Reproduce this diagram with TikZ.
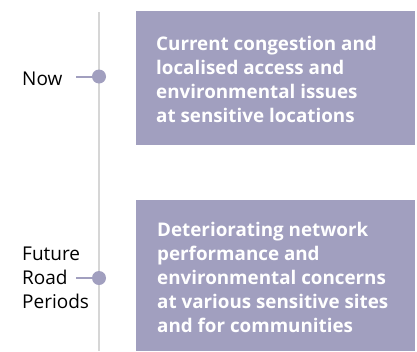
\documentclass[tikz,border=0pt]{standalone}
\usepackage{fontspec}
\setmainfont{Open Sans}
\definecolor{boxpurple}{HTML}{A19FBF}
\definecolor{linegray}{HTML}{D6D6D6}
\begin{document}
\begin{tikzpicture}[x=1pt,y=-1pt,
  box/.style={fill=boxpurple,draw=none},
  boxtext/.style={anchor=base west,inner sep=0pt,align=left,text=white,font=\bfseries\fontsize{18.8}{24}\selectfont},
  label/.style={anchor=base west,inner sep=0pt,align=left,text=black,font=\fontsize{19}{23.7}\selectfont},
  dotstyle/.style={circle,fill=boxpurple,draw=none,minimum size=14pt,inner sep=0pt},
  conn/.style={draw=boxpurple,line width=2pt},
  timeline/.style={draw=linegray,line width=2.5pt}]
\useasboundingbox (0,0) rectangle (417,351);
% timeline
\coordinate (ttop) at (99,12);
\coordinate (tbot) at (99,351);
\draw[timeline] (ttop) -- (tbot);
% boxes
\fill[box] (136,11) rectangle (415,145);
\fill[box] (136,200) rectangle (415,351);
\node[boxtext] (t1) at (156,122) {Current congestion and\\localised access and\\environmental issues\\at sensitive locations};
\node[boxtext] (t2) at (157,332.7) {Deteriorating network\\performance and\\environmental concerns\\at various sensitive sites\\and for communities};
% labels
\node[label] (now) at (22,85) {Now};
\node[label] (future) at (22,308) {Future\\Road\\Periods};
\coordinate (c1) at (76,76.5);
\coordinate (c2) at (76,278);
\coordinate (d1) at (99,76.5);
\coordinate (d2) at (99,278);
\draw[conn] (c1) -- (d1);
\draw[conn] (c2) -- (d2);
\node[dotstyle] (dot1) at (d1) {};
\node[dotstyle] (dot2) at (d2) {};
\end{tikzpicture}
\end{document}
